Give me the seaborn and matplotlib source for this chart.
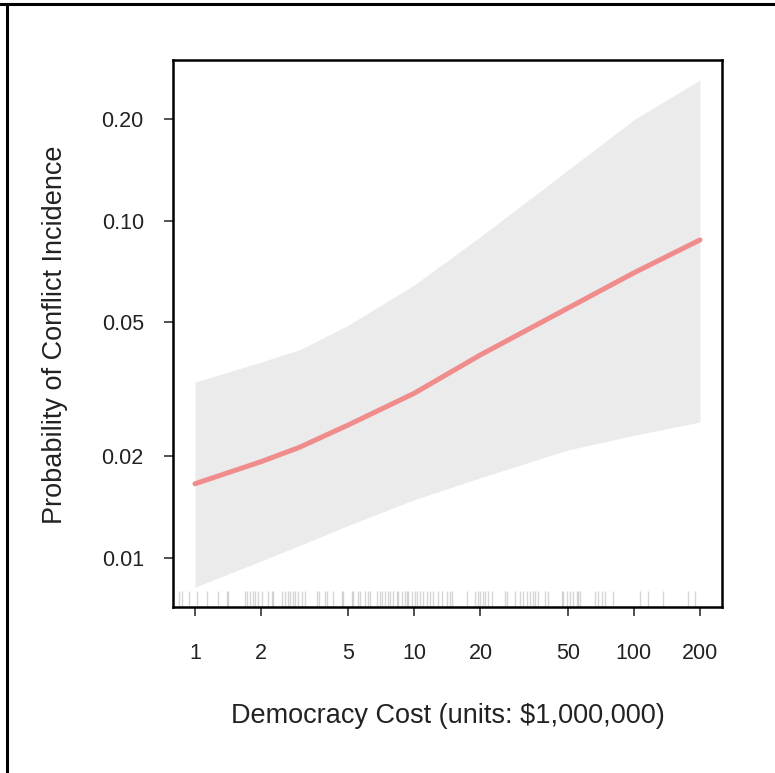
import numpy as np
import pandas as pd
import matplotlib
matplotlib.use("Agg")
import matplotlib.pyplot as plt
from matplotlib.lines import Line2D
import seaborn as sns

# ---- data ----
cost = [1, 2, 3, 5, 10, 20, 50, 100, 200]
prob = [0.0166, 0.0193, 0.0213, 0.0248, 0.0308, 0.0400, 0.0550, 0.0700, 0.0876]
lower = [0.0082, 0.0098, 0.0109, 0.0125, 0.0149, 0.0173, 0.0209, 0.0231, 0.0253]
upper = [0.0332, 0.0381, 0.0414, 0.0490, 0.0645, 0.0896, 0.1410, 0.1990, 0.2610]

rug_cost = [0.85, 0.87, 0.94, 1.02, 1.13, 1.27, 1.40, 1.41, 1.69, 1.73, 1.78, 1.84,
            1.88, 1.94, 2.02, 2.15, 2.24, 2.27, 2.49, 2.57, 2.65, 2.71, 2.80, 2.86,
            2.95, 3.07, 3.17, 3.60, 3.67, 3.91, 4.00, 4.25, 4.67, 4.72, 5.19, 5.25,
            5.53, 5.65, 5.95, 6.14, 6.27, 6.75, 6.96, 7.11, 7.34, 7.57, 7.73, 7.98,
            8.32, 8.41, 8.77, 9.05, 9.24, 9.34, 9.74, 10.05, 10.27, 10.6, 10.93,
            11.4, 11.77, 12.15, 12.8, 13.35, 14.07, 14.51, 14.82, 17.35, 18.87,
            19.47, 19.88, 20.52, 20.96, 21.62, 22.55, 25.84, 26.39, 28.71, 30.24,
            31.21, 32.55, 33.59, 34.67, 35.40, 36.53, 39.31, 40.57, 46.99, 47.49,
            49.53, 51.1, 52.73, 55.0, 55.6, 56.8, 66.4, 68.5, 71.5, 73.8, 80.2,
            106.5, 115.8, 135.6, 176.2, 189.6]

x_ticks = [1, 2, 5, 10, 20, 50, 100, 200]
x_ticklabels = ["1", "2", "5", "10", "20", "50", "100", "200"]
y_ticks = [0.01, 0.02, 0.05, 0.10, 0.20]
y_ticklabels = ["0.01", "0.02", "0.05", "0.10", "0.20"]

df = pd.DataFrame({"cost": cost, "prob": prob, "lower": lower, "upper": upper})

sns.set_style("white")
plt.rcParams["font.family"] = ["Liberation Sans", "DejaVu Sans"]

fig = plt.figure(figsize=(7.75, 7.73), dpi=100)
ax = fig.add_axes([0.2232, 0.2147, 0.7084, 0.7077])
ax.set_xscale("log")
ax.set_yscale("log")

ax.fill_between(df["cost"], df["lower"], df["upper"], color="#EBEBEB", linewidth=0, zorder=1)
sns.lineplot(data=df, x="cost", y="prob", ax=ax, color="#F08C8C", linewidth=3.6,
             solid_capstyle="round", zorder=3)
sns.rugplot(x=rug_cost, ax=ax, height=0.03, color="#9a9a9a", alpha=0.4,
            linewidth=1.0, zorder=2)

ax.set_xlim(0.794, 252)
ax.set_ylim(0.00716, 0.299)
ax.set_xticks(x_ticks)
ax.set_xticklabels(x_ticklabels)
ax.set_yticks(y_ticks)
ax.set_yticklabels(y_ticklabels)
ax.minorticks_off()
ax.tick_params(axis="both", which="major", direction="out", length=6.5, width=1.2,
               color="#333333", labelsize=15.5, labelcolor="#222222",
               bottom=True, left=True)
ax.tick_params(axis="y", pad=14.5)
ax.tick_params(axis="x", pad=19.5)

for s in ax.spines.values():
    s.set_visible(True)
    s.set_color("black")
    s.set_linewidth(1.8)

ax.set_xlabel("Democracy Cost (units: $1,000,000)", fontsize=19.5, color="#222222")
ax.set_ylabel("Probability of Conflict Incidence", fontsize=19.5, color="#222222")
ax.xaxis.label.set_verticalalignment("center")
ax.yaxis.label.set_verticalalignment("center")
ax.xaxis.set_label_coords(0.5, (607 - 716) / 547)
ax.yaxis.set_label_coords((55 - 173) / 549, 0.497)

# outer frame lines (top and left only)
fig.add_artist(Line2D([0, 1], [1 - 4 / 773, 1 - 4 / 773], transform=fig.transFigure,
                      color="black", linewidth=2.2))
fig.add_artist(Line2D([7 / 775, 7 / 775], [0, 1 - 4 / 773], transform=fig.transFigure,
                      color="black", linewidth=2.2))

fig.savefig("out.png", dpi=100)
